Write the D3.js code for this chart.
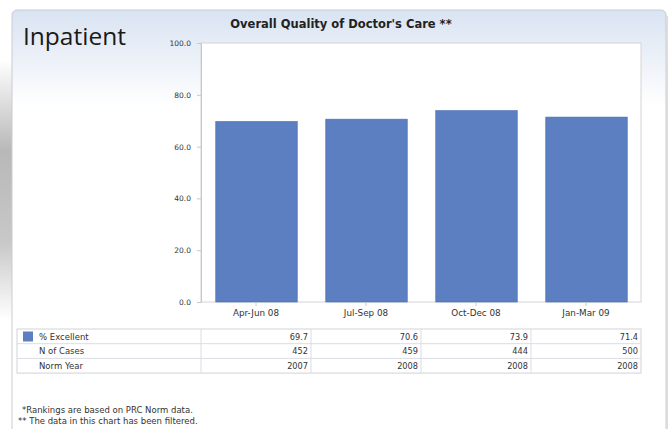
<!DOCTYPE html>
<html>
<head>
<meta charset="utf-8">
<script src="https://cdn.jsdelivr.net/npm/d3@7"></script>
<style>
  body { margin: 0; background: #fff; }
  svg { display: block; }
</style>
</head>
<body>
<div id="chart"></div>
<script>
const categories = ['Apr-Jun 08', 'Jul-Sep 08', 'Oct-Dec 08', 'Jan-Mar 09'];
const pctExcellent = [69.7, 70.6, 73.9, 71.4];
const nCases = [452, 459, 444, 500];
const normYear = [2007, 2008, 2008, 2008];
const yTicks = [0, 20, 40, 60, 80, 100];

const W = 671, H = 429;
const plot = { left: 201, right: 641, top: 43, bottom: 302 };
const smallFont = 'DejaVu Sans, Verdana, sans-serif';

const svg = d3.select('#chart').append('svg')
  .attr('width', W).attr('height', H);

const defs = svg.append('defs');
const grad = defs.append('linearGradient').attr('id', 'bg')
  .attr('x1', 0).attr('y1', 0).attr('x2', 0).attr('y2', 1);
grad.append('stop').attr('offset', 0).attr('stop-color', '#d9e3f2');
grad.append('stop').attr('offset', 0.22).attr('stop-color', '#ffffff');
grad.append('stop').attr('offset', 1).attr('stop-color', '#ffffff');

const side = defs.append('linearGradient').attr('id', 'side')
  .attr('x1', 0).attr('y1', 0).attr('x2', 0).attr('y2', 1);
side.append('stop').attr('offset', 0).attr('stop-color', '#ffffff');
side.append('stop').attr('offset', 0.35).attr('stop-color', '#b8b8b8');
side.append('stop').attr('offset', 0.7).attr('stop-color', '#c8c8c8');
side.append('stop').attr('offset', 1).attr('stop-color', '#ffffff');

// grey strip at left
svg.append('rect').attr('x', 0).attr('y', 60).attr('width', 12).attr('height', 260)
  .attr('fill', 'url(#side)');

// panel
svg.append('rect').attr('x', 12).attr('y', 10).attr('width', 654).attr('height', 440)
  .attr('rx', 5).attr('fill', 'url(#bg)').attr('stroke', '#c9ccd2').attr('stroke-width', 1);
svg.append('line').attr('x1', 667).attr('x2', 667).attr('y1', 16).attr('y2', 429)
  .attr('stroke', '#dcdcdc').attr('stroke-width', 2);

svg.append('text').attr('x', 23).attr('y', 45)
  .attr('font-family', 'Open Sans, sans-serif').attr('font-size', 24.5)
  .attr('fill', '#1a1a1a').text('Inpatient');

svg.append('text').attr('x', 341).attr('y', 28).attr('text-anchor', 'middle')
  .attr('font-family', smallFont).attr('font-size', 11.5)
  .attr('font-weight', 'bold').attr('fill', '#222')
  .text("Overall Quality of Doctor's Care **");

// plot area
svg.append('rect').attr('x', plot.left).attr('y', plot.top)
  .attr('width', plot.right - plot.left).attr('height', plot.bottom - plot.top)
  .attr('fill', '#fff').attr('stroke', '#d4d4d4');

const x = d3.scaleBand().domain(categories).range([plot.left, plot.right])
  .paddingInner(0.25).paddingOuter(0.125);
const y = d3.scaleLinear().domain([0, 100]).range([plot.bottom, plot.top]);

svg.append('g').selectAll('rect').data(categories).join('rect')
  .attr('x', d => x(d) + 1)
  .attr('y', (d, i) => y(pctExcellent[i]))
  .attr('width', x.bandwidth() - 1)
  .attr('height', (d, i) => y(0) - y(pctExcellent[i]))
  .attr('fill', '#5b7fc0').attr('stroke', '#4a6db0').attr('stroke-width', 0.6);

const yAxis = svg.append('g').attr('transform', `translate(${plot.left},0)`)
  .call(d3.axisLeft(y).tickValues(yTicks).tickFormat(d3.format('.1f')).tickSize(4).tickPadding(6));
yAxis.select('.domain').attr('stroke', '#c8c8c8');
yAxis.selectAll('.tick line').attr('stroke', '#c8c8c8');
yAxis.selectAll('text').attr('font-family', smallFont)
  .attr('font-size', 7.5).attr('fill', '#333');

const xAxis = svg.append('g').attr('transform', `translate(0,${plot.bottom})`)
  .call(d3.axisBottom(x).tickSize(4).tickPadding(4).tickSizeOuter(0));
xAxis.select('.domain').remove();
xAxis.selectAll('.tick line').attr('stroke', '#c8c8c8');
xAxis.selectAll('text').attr('font-family', smallFont)
  .attr('font-size', 8.8).attr('fill', '#333');

// data table
const rows = [
  { label: '% Excellent', values: pctExcellent.map(d => d.toFixed(1)), swatch: true },
  { label: 'N of Cases', values: nCases.map(String) },
  { label: 'Norm Year', values: normYear.map(String) }
];
const tTop = 329, rowH = 14.7, tLeft = 17;
const tbl = svg.append('g');
tbl.append('rect').attr('x', tLeft).attr('y', tTop)
  .attr('width', plot.right - tLeft).attr('height', rowH * rows.length)
  .attr('fill', '#fff').attr('stroke', '#cfd3d8');
rows.forEach((r, i) => {
  const ry = tTop + i * rowH;
  if (i > 0) tbl.append('line').attr('x1', tLeft).attr('x2', plot.right)
    .attr('y1', ry).attr('y2', ry).attr('stroke', '#dadde2');
  if (r.swatch) tbl.append('rect').attr('x', 23).attr('y', ry + 2.5)
    .attr('width', 10).attr('height', 10).attr('fill', '#5b7fc0');
  tbl.append('text').attr('x', 39).attr('y', ry + 10.5)
    .attr('font-family', smallFont).attr('font-size', 8.5)
    .attr('fill', '#333').text(r.label);
  r.values.forEach((v, j) => {
    tbl.append('text').attr('x', x(categories[j]) - x.step() * x.paddingOuter() + x.step() - 3)
      .attr('y', ry + 10.5).attr('text-anchor', 'end')
      .attr('font-family', smallFont).attr('font-size', 8.2)
      .attr('fill', '#333').text(v);
  });
});
categories.forEach((c, j) => {
  const cx = x(c) - x.step() * x.paddingOuter();
  tbl.append('line').attr('x1', cx).attr('x2', cx)
    .attr('y1', tTop).attr('y2', tTop + rowH * rows.length).attr('stroke', '#dadde2');
});

svg.append('text').attr('x', 22).attr('y', 413)
  .attr('font-family', smallFont).attr('font-size', 8.5)
  .attr('fill', '#333').text('*Rankings are based on PRC Norm data.');
svg.append('text').attr('x', 18).attr('y', 424)
  .attr('font-family', smallFont).attr('font-size', 8.5)
  .attr('fill', '#333').text('** The data in this chart has been filtered.');
</script>
</body>
</html>
